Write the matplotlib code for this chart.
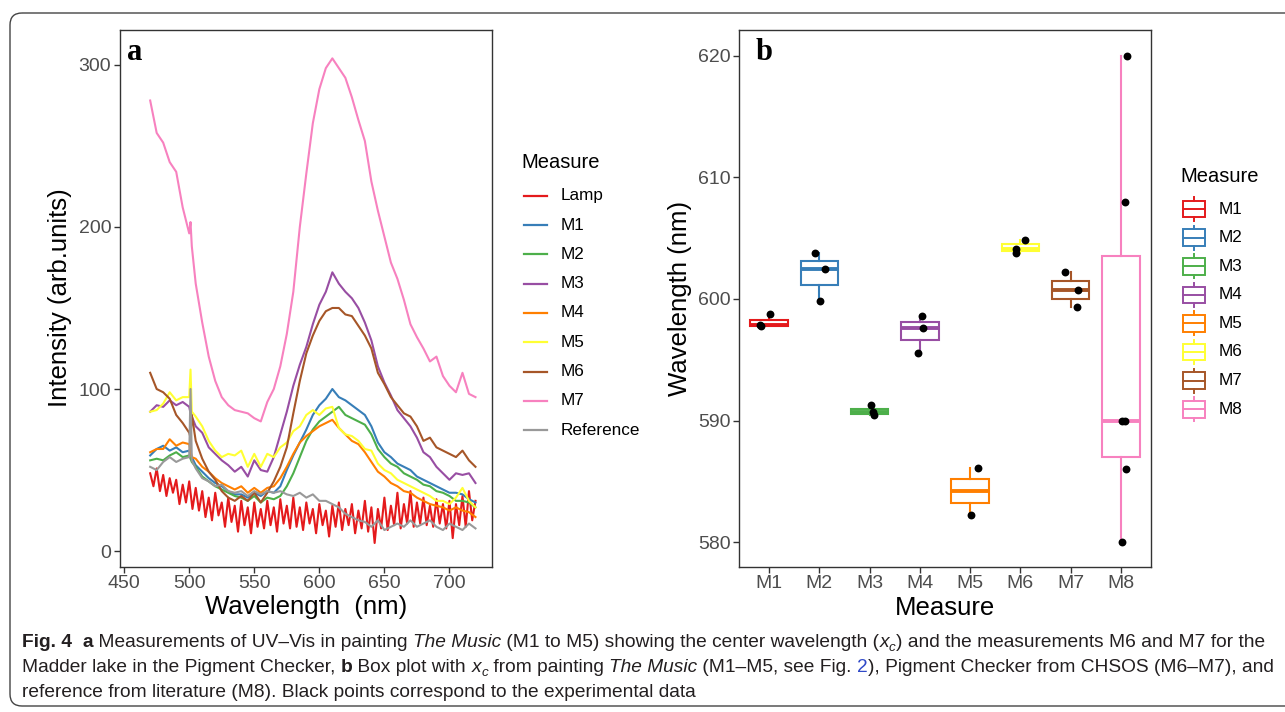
import matplotlib
matplotlib.use('Agg')
import matplotlib.pyplot as plt
import matplotlib.transforms as mtransforms
from matplotlib.patches import FancyBboxPatch, Rectangle
from matplotlib.lines import Line2D

# ---------------- data : panel a (spectra) ----------------
wl = [470, 475, 480, 485, 490, 495, 500, 501, 502, 505, 510, 515, 520, 525, 530, 535,
      540, 545, 550, 555, 560, 565, 570, 575, 580, 585, 590, 595, 600, 605, 610, 615,
      620, 625, 630, 635, 640, 645, 650, 655, 660, 665, 670, 675, 680, 685, 690, 695,
      700, 705, 710, 715, 720]

M1 = [59, 63, 65, 62, 64, 61, 62, 60, 58,
      53, 49, 45, 42, 40, 37, 35, 35, 33, 36, 34, 37, 36, 40, 50, 59, 67, 75, 84, 90, 94,
      100, 95, 93, 90, 87, 84, 77, 67, 61, 58, 54, 52, 50, 46, 44, 42, 40, 38, 36, 36, 35, 32, 30]
M2 = [56, 57, 56, 59, 61, 58, 59, 57, 55,
      52, 46, 43, 40, 38, 36, 34, 33, 31, 34, 30, 33, 32, 34, 40, 48, 58, 68, 75, 80, 83,
      86, 89, 84, 82, 80, 78, 72, 63, 58, 54, 52, 48, 46, 44, 41, 40, 37, 36, 34, 31, 31, 30, 27]
M3 = [86, 90, 89, 93, 90, 92, 89, 85, 83,
      77, 73, 64, 60, 56, 53, 49, 52, 46, 56, 50, 49, 58, 72, 86, 102, 115, 126, 140, 152, 160,
      172, 165, 160, 156, 150, 141, 130, 114, 104, 96, 87, 82, 77, 70, 61, 58, 52, 48, 44, 48, 47, 48, 42]
M4 = [61, 63, 63, 69, 65, 67, 66, 62, 58,
      57, 52, 49, 45, 42, 40, 38, 40, 36, 39, 36, 39, 40, 45, 52, 60, 67, 71, 74, 77, 79,
      81, 76, 72, 68, 66, 61, 55, 49, 46, 42, 40, 37, 36, 33, 31, 29, 28, 27, 25, 27, 25, 24, 21]
M5 = [86, 87, 91, 98, 93, 95, 95, 112, 86,
      83, 77, 68, 62, 58, 60, 59, 62, 52, 60, 52, 60, 58, 64, 67, 74, 77, 84, 87, 84, 88,
      89, 76, 72, 71, 68, 63, 62, 54, 50, 48, 44, 42, 40, 38, 36, 34, 31, 31, 29, 33, 39, 31, 27]
M6 = [110, 100, 98, 94, 84, 79, 73, 70, 84,
      68, 57, 49, 44, 37, 33, 31, 34, 31, 36, 30, 36, 43, 52, 64, 85, 105, 122, 133, 142, 148,
      150, 150, 146, 145, 139, 133, 125, 110, 103, 95, 90, 85, 83, 77, 68, 70, 64, 62, 60, 58, 62, 56, 52]
M7 = [278, 258, 252, 240, 234, 212, 196, 203, 188,
      165, 141, 120, 105, 95, 90, 87, 86, 85, 82, 80, 92, 100, 114, 134, 160, 200, 233, 264, 285, 298,
      304, 298, 292, 280, 266, 253, 228, 210, 194, 178, 168, 155, 140, 132, 125, 117, 120, 108, 102, 98, 110, 97, 95]
Reference = [52, 50, 55, 58, 55, 57, 58, 100, 56,
             51, 45, 43, 40, 41, 37, 36, 37, 34, 37, 35, 37, 36, 37, 35, 34, 36, 33, 35, 31, 31,
             29, 27, 23, 21, 19, 18, 15, 19, 13, 15, 17, 15, 19, 15, 17, 19, 15, 13, 17, 15, 13, 17, 14]

wl_lamp = [470, 472.5, 475, 477.5, 480, 482.5, 485, 487.5, 490, 492.5, 495, 497.5,
           500, 502.5, 505, 507.5, 510, 512.5, 515, 517.5, 520, 522.5, 525, 527.5,
           530, 532.5, 535, 537.5, 540, 542.5, 545, 547.5, 550, 552.5, 555, 557.5,
           560, 562.5, 565, 567.5, 570, 572.5, 575, 577.5, 580, 582.5, 585, 587.5,
           590, 592.5, 595, 597.5, 600, 602.5, 605, 607.5, 610, 612.5, 615, 617.5,
           620, 622.5, 625, 627.5, 630, 632.5, 635, 637.5, 640, 642.5, 645, 647.5,
           650, 652.5, 655, 657.5, 660, 662.5, 665, 667.5, 670, 672.5, 675, 677.5,
           680, 682.5, 685, 687.5, 690, 692.5, 695, 697.5, 700, 702.5, 705, 707.5,
           710, 712.5, 715, 717.5, 720]
Lamp = [48, 40, 51, 37, 47, 34, 45, 36, 44, 29, 41, 30,
        43, 26, 39, 25, 37, 21, 33, 19, 36, 22, 30, 15,
        33, 18, 28, 12, 31, 16, 27, 11, 30, 15, 26, 14,
        31, 16, 27, 12, 32, 17, 28, 14, 33, 15, 27, 13,
        30, 17, 26, 11, 29, 16, 25, 9, 28, 15, 30, 13,
        26, 16, 29, 11, 25, 14, 31, 12, 27, 5, 26, 14,
        33, 13, 28, 16, 36, 14, 29, 17, 37, 15, 30, 17,
        33, 16, 28, 15, 32, 17, 29, 14, 31, 8, 29, 16,
        34, 15, 37, 19, 31]

series_names = ['Lamp', 'M1', 'M2', 'M3', 'M4', 'M5', 'M6', 'M7', 'Reference']
series_colors = ['#E41A1C', '#377EB8', '#4DAF4A', '#984EA3', '#FF7F00',
                 '#FFFF33', '#A65628', '#F781BF', '#999999']
xticks_a = [450, 500, 550, 600, 650, 700]
yticks_a = [0, 100, 200, 300]

# ---------------- data : panel b (box plot) ----------------
box_categories = ['M1', 'M2', 'M3', 'M4', 'M5', 'M6', 'M7', 'M8']
b_M1 = [597.82, 597.73, 598.73]
b_M2 = [603.78, 602.43, 599.80]
b_M3 = [591.29, 590.67, 590.42]
b_M4 = [598.57, 597.63, 595.53]
b_M5 = [586.12, 582.26]
b_M6 = [604.85, 604.10, 603.75]
b_M7 = [602.21, 600.74, 599.29]
b_M8 = [620.0, 607.98, 590.0, 590.0, 585.99, 580.0]
jit_M1 = [-0.18, -0.16, 0.01]
jit_M2 = [-0.08, 0.12, 0.02]
jit_M3 = [0.02, 0.07, 0.09]
jit_M4 = [0.05, 0.07, -0.03]
jit_M5 = [0.15, 0.01]
jit_M6 = [0.09, -0.08, -0.09]
jit_M7 = [-0.12, 0.15, 0.13]
jit_M8 = [0.13, 0.09, 0.03, 0.08, 0.11, 0.03]
box_colors = ['#E41A1C', '#377EB8', '#4DAF4A', '#984EA3', '#FF7F00',
              '#FFFF33', '#A65628', '#F781BF']
yticks_b = [580, 590, 600, 610, 620]

# ---------------- figure ----------------
W, H, DPI = 1285, 712, 100
plt.rcParams['font.family'] = ['Liberation Sans', 'DejaVu Sans']
fig = plt.figure(figsize=(W / DPI, H / DPI), dpi=DPI)
fig.patch.set_facecolor('white')
px = mtransforms.Affine2D().scale(1 / W, -1 / H).translate(0, 1) + fig.transFigure

TICK_COL = '#4D4D4D'
FRAME_COL = '#333333'


def style_axes(ax):
    for sp in ax.spines.values():
        sp.set_color(FRAME_COL)
        sp.set_linewidth(1.0)
    ax.tick_params(direction='out', length=4, width=1, color=FRAME_COL,
                   labelsize=14, labelcolor=TICK_COL, pad=2)


# panel a
axA = fig.add_axes([119.6 / W, 1 - 566.5 / H, (492.4 - 119.6) / W, (566.5 - 30) / H])
style_axes(axA)
axA.plot(wl_lamp, Lamp, color=series_colors[0], lw=1.5)
for name, vals, col in zip(series_names[1:], [M1, M2, M3, M4, M5, M6, M7, Reference],
                           series_colors[1:]):
    axA.plot(wl, vals, color=col, lw=1.5)
axA.set_xlim(446.5, 733)
axA.set_ylim(-9.5, 321.5)
axA.set_xticks(xticks_a)
axA.set_yticks(yticks_a)

# panel b
axB = fig.add_axes([739 / W, 1 - 566.5 / H, 412 / W, (566.5 - 30) / H])
style_axes(axB)
box_data = [b_M1, b_M2, b_M3, b_M4, b_M5, b_M6, b_M7, b_M8]
jitters = [jit_M1, jit_M2, jit_M3, jit_M4, jit_M5, jit_M6, jit_M7, jit_M8]
positions = list(range(1, len(box_categories) + 1))
bp = axB.boxplot(box_data, positions=positions, widths=0.75, whis=1.5,
                 showfliers=False, patch_artist=True, manage_ticks=False)
for i, col in enumerate(box_colors):
    bp['boxes'][i].set_facecolor('white')
    bp['boxes'][i].set_edgecolor(col)
    bp['boxes'][i].set_linewidth(1.5)
    bp['medians'][i].set_color(col)
    bp['medians'][i].set_linewidth(2.8)
    for w in bp['whiskers'][2 * i:2 * i + 2]:
        w.set_color(col)
        w.set_linewidth(1.5)
    for c in bp['caps'][2 * i:2 * i + 2]:
        c.set_visible(False)
for pos, vals, jit in zip(positions, box_data, jitters):
    axB.scatter([pos + j for j in jit], vals, s=32, color='black', zorder=5, linewidths=0)
axB.set_xlim(0.4, 8.6)
axB.set_ylim(578, 622.1)
axB.set_xticks(positions)
axB.set_xticklabels(box_categories)
axB.set_yticks(yticks_b)

# panel letters
fig.text(127, 60, 'a', transform=px, family='Liberation Serif', weight='bold',
         fontsize=22, va='baseline', ha='left')
fig.text(756, 60, 'b', transform=px, family='Liberation Serif', weight='bold',
         fontsize=22, va='baseline', ha='left')

# axis titles
fig.text(306, 607, 'Wavelength  (nm)', transform=px, fontsize=18.5, ha='center', va='center')
fig.text(60, 298, 'Intensity (arb.units)', transform=px, fontsize=18.5, ha='center',
         va='center', rotation=90)
fig.text(945, 608, 'Measure', transform=px, fontsize=18.5, ha='center', va='center')
fig.text(680, 298, 'Wavelength (nm)', transform=px, fontsize=18.5, ha='center',
         va='center', rotation=90)

# legend a
fig.text(521, 162, 'Measure', transform=px, fontsize=14.5, ha='left', va='center')
for i, (name, col) in enumerate(zip(series_names, series_colors)):
    y = 195.7 + i * 29.3
    fig.add_artist(Line2D([523.5, 547], [y, y], transform=px, color=col, lw=1.6))
    fig.text(561, y, name, transform=px, fontsize=12.3, ha='left', va='center')

# legend b
fig.text(1180, 177, 'Measure', transform=px, fontsize=14.5, ha='left', va='center')
for i, (name, col) in enumerate(zip(box_categories, box_colors)):
    yc = 209 + i * 28.6
    fig.add_artist(Line2D([1194, 1194], [yc - 12, yc - 8.3], transform=px, color=col, lw=1.4))
    fig.add_artist(Line2D([1194, 1194], [yc + 8.3, yc + 12], transform=px, color=col, lw=1.4))
    fig.add_artist(Rectangle((1183, yc - 8.3), 22, 16.6, transform=px, facecolor='white',
                             edgecolor=col, lw=1.4))
    fig.add_artist(Line2D([1183, 1205], [yc, yc], transform=px, color=col, lw=1.4))
    fig.text(1219, yc, name, transform=px, fontsize=12.3, ha='left', va='center')

# outer rounded frame
fig.add_artist(FancyBboxPatch((10, 13), 1400, 693, boxstyle='round,pad=0,rounding_size=12',
                              transform=px, facecolor='none', edgecolor='#444444', lw=1.0))

# caption (rich text)
CAP_FONT = ['Liberation Sans Narrow', 'Liberation Sans', 'DejaVu Sans']
CAP_COL = '#231F20'
renderer = fig.canvas.get_renderer()


def piece_kw(st, fs):
    kw = dict(fontsize=fs, family=CAP_FONT, color=CAP_COL)
    if st == 'b':
        kw['weight'] = 'bold'
    elif st == 'i':
        kw['style'] = 'italic'
    elif st == 'sub':
        kw['style'] = 'italic'
        kw['fontsize'] = fs * 0.7
    elif st == 'link':
        kw['color'] = '#2F49C8'
    return kw


def text_width(s, kw):
    t = fig.text(0, 0, s + '|', **kw)
    w1 = t.get_window_extent(renderer).width
    t.set_text('|')
    w2 = t.get_window_extent(renderer).width
    t.remove()
    return w1 - w2


def draw_line(pieces, x0, ybase, fs, draw=True):
    x = x0
    for s, st in pieces:
        kw = piece_kw(st, fs)
        dy = 4 if st == 'sub' else 0
        w = text_width(s, kw)
        if draw:
            fig.text(x, ybase + dy, s, transform=px, ha='left', va='baseline', **kw)
        x += w
    return x - x0


line1 = [('Fig. 4', 'b'), ('  ', 'n'), ('a', 'b'),
         (' Measurements of UV\u2013Vis in painting ', 'n'), ('The Music', 'i'),
         (' (M1 to M5) showing the center wavelength (', 'n'), ('x', 'i'), ('c', 'sub'),
         (') and the measurements M6 and M7 for the', 'n')]
line2 = [('Madder lake in the Pigment Checker, ', 'n'), ('b', 'b'), (' Box plot with ', 'n'),
         ('x', 'i'), ('c', 'sub'), (' from painting ', 'n'), ('The Music', 'i'),
         (' (M1\u2013M5, see Fig. ', 'n'), ('2', 'link'),
         ('), Pigment Checker from CHSOS (M6\u2013M7), and', 'n')]
line3 = [('reference from literature (M8). Black points correspond to the experimental data', 'n')]

fs0 = 13.0
w1 = draw_line(line1, 22, 647, fs0, draw=False)
fs_cap = fs0 * (1265 - 22) / w1
draw_line(line1, 22, 647, fs_cap)
draw_line(line2, 22, 672, fs_cap)
draw_line(line3, 22, 697, fs_cap)

fig.savefig('out.png', dpi=DPI)
